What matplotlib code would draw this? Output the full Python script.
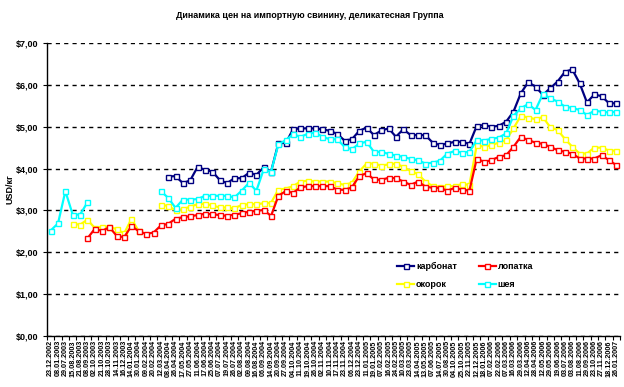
import numpy as np
import matplotlib
matplotlib.use('Agg')
import matplotlib.pyplot as plt
from matplotlib.ticker import FixedLocator, FuncFormatter

plt.rcParams['font.family'] = ['Liberation Sans', 'DejaVu Sans']

# dates on the category axis
dates = [
    '23.12.2002', '08.01.2003', '29.07.2003', '15.08.2003', '21.08.2003', '08.09.2003',
    '02.10.2003', '21.10.2003', '28.10.2003', '14.11.2003', '16.12.2003', '14.01.2004',
    '30.01.2004', '09.02.2004', '20.02.2004', '12.03.2004', '08.04.2004', '26.04.2004',
    '17.05.2004', '27.05.2004', '11.06.2004', '17.06.2004', '25.06.2004', '07.07.2004',
    '19.07.2004', '26.07.2004', '02.08.2004', '09.08.2004', '16.08.2004', '06.09.2004',
    '14.09.2004', '20.09.2004', '27.09.2004', '04.10.2004', '11.10.2004', '19.10.2004',
    '26.10.2004', '02.11.2004', '10.11.2004', '17.11.2004', '23.11.2004', '06.12.2004',
    '23.12.2004', '11.01.2005', '19.01.2005', '07.02.2005', '16.02.2005', '24.02.2005',
    '10.03.2005', '23.03.2005', '14.04.2005', '13.05.2005', '07.06.2005', '14.07.2005',
    '30.08.2005', '04.10.2005', '25.10.2005', '22.11.2005', '12.12.2005', '18.01.2006',
    '07.02.2006', '22.02.2006', '07.03.2006', '16.03.2006', '29.03.2006', '12.04.2006',
    '28.04.2006', '12.05.2006', '29.05.2006', '19.06.2006', '03.07.2006', '03.08.2006',
    '11.08.2006', '29.09.2006', '23.10.2006', '27.11.2006', '18.12.2006', '26.01.2007',
]

# USD/kg, None = no quote
karbonat = [None] * 16 + [
    3.81, 3.82, 3.65, 3.72, 4.04, 3.97, 3.93, 3.73, 3.65, 3.77,
    3.77, 3.90, 3.85, 4.03, 3.93, 4.61, 4.61, 4.94, 4.96, 4.96,
    4.96, 4.94, 4.90, 4.83, 4.67, 4.70, 4.90, 4.98, 4.80, 4.91,
    4.96, 4.76, 4.94, 4.80, 4.80, 4.80, 4.62, 4.56, 4.60, 4.64,
    4.64, 4.59, 5.02, 5.04, 5.00, 5.02, 5.12, 5.36, 5.80, 6.06,
    5.96, 5.76, 5.92, 6.08, 6.31, 6.37, 6.04, 5.58, 5.77, 5.73,
    5.56, 5.56]

lopatka = [None] * 5 + [
    2.33, 2.56, 2.51, 2.60, 2.39, 2.36, 2.63, 2.50, 2.44, 2.47,
    2.64, 2.68, 2.80,
    2.84, 2.86, 2.89, 2.92, 2.91, 2.89, 2.87, 2.90, 2.93, 2.97,
    2.99, 3.01, 2.87,
    3.35, 3.46, 3.42, 3.55, 3.58, 3.58, 3.58, 3.58, 3.50, 3.49,
    3.55, 3.82, 3.89, 3.74, 3.73, 3.78, 3.77,
    3.69, 3.61, 3.69, 3.57, 3.54, 3.54, 3.47, 3.54, 3.50, 3.47,
    4.24, 4.16, 4.20, 4.28, 4.32, 4.52, 4.76, 4.68, 4.62, 4.59,
    4.52, 4.44, 4.40, 4.36, 4.24, 4.24, 4.24, 4.32, 4.20, 4.08]

okorok = [None] * 3 + [
    2.68, 2.66, 2.78, 2.58, 2.61, 2.61, 2.55, 2.45, 2.80, 2.50,
    None, None,
    3.13, 3.11, 3.00, 3.03, 3.09, 3.15, 3.16, 3.12, 3.07, 3.07,
    3.05, 3.13, 3.15, 3.15, 3.17, 3.18,
    3.50, 3.52, 3.58, 3.69, 3.71, 3.69, 3.69, 3.69, 3.65, 3.61,
    3.66, 3.93, 4.12, 4.12,
    4.07, 4.10, 4.12, 4.04, 3.94, 3.87, 3.69, 3.58, 3.57, 3.58,
    3.58, 3.63, 3.61, 4.56, 4.52, 4.56, 4.62, 4.68, 4.96, 5.26,
    5.22, 5.18, 5.23, 4.99, 4.92, 4.71, 4.52, 4.36, 4.36, 4.50,
    4.50, 4.43, 4.43]

sheya = [2.52, 2.69, 3.46, 2.90, 2.90, 3.19] + [None] * 9 + [
    3.46, 3.30, 3.06, 3.26, 3.26, 3.27, 3.35, 3.35, 3.35, 3.35,
    3.31, 3.47, 3.66, 3.47, 3.98, 3.93,
    4.58, 4.68, 4.82, 4.76, 4.83, 4.86, 4.76, 4.70, 4.70, 4.52,
    4.46, 4.60, 4.64, 4.40,
    4.40, 4.35, 4.31, 4.28, 4.23, 4.20, 4.12, 4.14, 4.19, 4.36,
    4.42, 4.38, 4.40, 4.68, 4.67, 4.71, 4.74, 4.84, 5.26, 5.44,
    5.54, 5.40, 5.78, 5.68, 5.60, 5.48, 5.45, 5.40, 5.28, 5.38,
    5.36, 5.34, 5.36]

series = [
    ('карбонат', karbonat, '#000080'),
    ('окорок', okorok, '#FFFF00'),
    ('лопатка', lopatka, '#FF0000'),
    ('шея', sheya, '#00FFFF'),
]

fig = plt.figure(figsize=(6.24, 3.87), dpi=100)
ax = fig.add_axes([47 / 624, 51 / 387, 573 / 624, 293 / 387])

x = np.arange(len(dates))
for name, vals, col in series:
    y = np.array(vals, dtype=float)
    ax.plot(x, y, color=col, lw=1.6, marker='s', ms=3.6, mfc='white',
            mec=col, mew=1.0, label=name, solid_joinstyle='round')

ax.set_xlim(-0.5, len(dates) - 0.5)
ax.set_ylim(0, 7)
ax.set_yticks(np.arange(0, 8, 1))
ax.yaxis.set_major_formatter(FuncFormatter(lambda v, p: ('$%.2f' % v).replace('.', ',')))
ax.grid(axis='y', color='black', linestyle=(0, (3, 3)), lw=1.0)
ax.set_axisbelow(True)

ax.set_xticks(x)
ax.set_xticklabels(dates, rotation=90, fontsize=5.2, fontweight='bold')
ax.xaxis.set_minor_locator(FixedLocator(np.arange(-0.5, len(dates), 1)))
ax.tick_params(axis='x', which='major', length=0, pad=3)
ax.tick_params(axis='x', which='minor', length=3, width=0.8, direction='out')
ax.tick_params(axis='y', length=3, width=0.8, labelsize=6.5, pad=3)
for lab in ax.get_yticklabels():
    lab.set_fontweight('bold')

for s in ['top', 'right']:
    ax.spines[s].set_visible(False)
ax.spines['left'].set_linewidth(1.0)
ax.spines['bottom'].set_linewidth(1.0)

ax.set_ylabel('USD/кг', fontsize=6.5, fontweight='bold', labelpad=1)

leg = ax.legend(ncol=2, loc='upper left', bbox_to_anchor=(0.6, 0.275), frameon=False,
                fontsize=6.5, handlelength=1.9, columnspacing=2.4, labelspacing=1.05,
                handletextpad=0.2, borderpad=0.2)
for t in leg.get_texts():
    t.set_fontweight('bold')

fig.text(0.497, 1 - 16 / 387, 'Динамика цен на импортную свинину, деликатесная Группа',
         ha='center', va='center', fontsize=6.5, fontweight='bold')

fig.savefig('out.png', dpi=100)
